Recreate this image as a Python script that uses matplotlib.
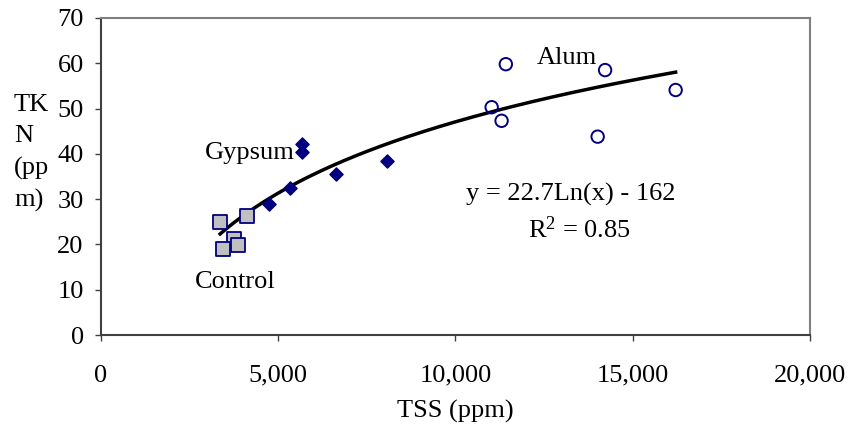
import numpy as np
import matplotlib
matplotlib.use("Agg")
from matplotlib import pyplot as plt

plt.rcParams['font.family'] = ['Liberation Serif', 'DejaVu Serif']
plt.rcParams['mathtext.fontset'] = 'custom'
plt.rcParams['mathtext.rm'] = 'Liberation Serif'
plt.rcParams['mathtext.it'] = 'Liberation Serif:italic'
plt.rcParams['mathtext.bf'] = 'Liberation Serif:bold'

# данные
control_tss = [3360, 4110, 3750, 3860, 3450]
control_tkn = [25.0, 26.3, 21.2, 19.9, 19.0]

gypsum_tss = [5660, 5660, 5330, 4750, 6620, 8080]
gypsum_tkn = [42.2, 40.5, 32.5, 28.9, 35.5, 38.5]

alum_tss = [11420, 11020, 11300, 14220, 14010, 16210]
alum_tkn = [59.8, 50.3, 47.3, 58.5, 43.8, 54.1]

# логарифмический тренд (коэффициенты с графика)
trend_a = 22.7
trend_b = -162
r2 = 0.85

x_ticks = [0, 5000, 10000, 15000, 20000]
y_ticks = [0, 10, 20, 30, 40, 50, 60, 70]

navy = '#000080'
W, H = 854, 434
fs = 19

fig = plt.figure(figsize=(W / 100, H / 100), dpi=100)
ax = fig.add_axes([101 / W, 1 - 335 / H, (810 - 101) / W, (335 - 18) / H])

all_x = control_tss + gypsum_tss + alum_tss
xt = np.linspace(min(all_x), max(all_x), 200)
ax.plot(xt, trend_a * np.log(xt) + trend_b, color='black', lw=2.5, zorder=2)

ax.scatter(control_tss, control_tkn, marker='s', s=90, facecolor='#c0c0c0',
           edgecolor=navy, linewidth=1.3, zorder=3)
ax.scatter(gypsum_tss, gypsum_tkn, marker='D', s=45, facecolor=navy,
           edgecolor=navy, zorder=3)
ax.scatter(alum_tss, alum_tkn, marker='o', s=80, facecolor='none',
           edgecolor=navy, linewidth=1.4, zorder=3)

ax.set_xlim(0, 20000)
ax.set_ylim(0, 70)
ax.set_xticks(x_ticks)
ax.set_xticklabels(['{:,}'.format(v) for v in x_ticks])
ax.set_yticks(y_ticks)
ax.tick_params(direction='out', length=4.5, width=1, labelsize=fs,
               color='#404040')
ax.tick_params(axis='y', pad=8)
ax.tick_params(axis='x', pad=17)

for side in ['left', 'bottom']:
    ax.spines[side].set_color('#404040')
    ax.spines[side].set_linewidth(1.5)
for side in ['top', 'right']:
    ax.spines[side].set_color('#808080')
    ax.spines[side].set_linewidth(1.5)


def px_text(x, y, s, **kw):
    fig.text(x / W, 1 - y / H, s, fontsize=fs, **kw)


px_text(455, 411, 'TSS (ppm)', ha='center', va='center')
px_text(14, 153, 'TK\nN\n(pp\nm)', ha='left', va='center', linespacing=1.55)
px_text(250, 153, 'Gypsum', ha='center', va='center')
px_text(567, 58, 'Alum', ha='center', va='center')
px_text(235, 282, 'Control', ha='center', va='center')
px_text(571, 194, 'y = %.1fLn(x) - %d' % (trend_a, -trend_b),
        ha='center', va='center')
px_text(579, 230, 'R$^{2}$ = %.2f' % r2, ha='center', va='center')

fig.savefig('out.png', dpi=100)
